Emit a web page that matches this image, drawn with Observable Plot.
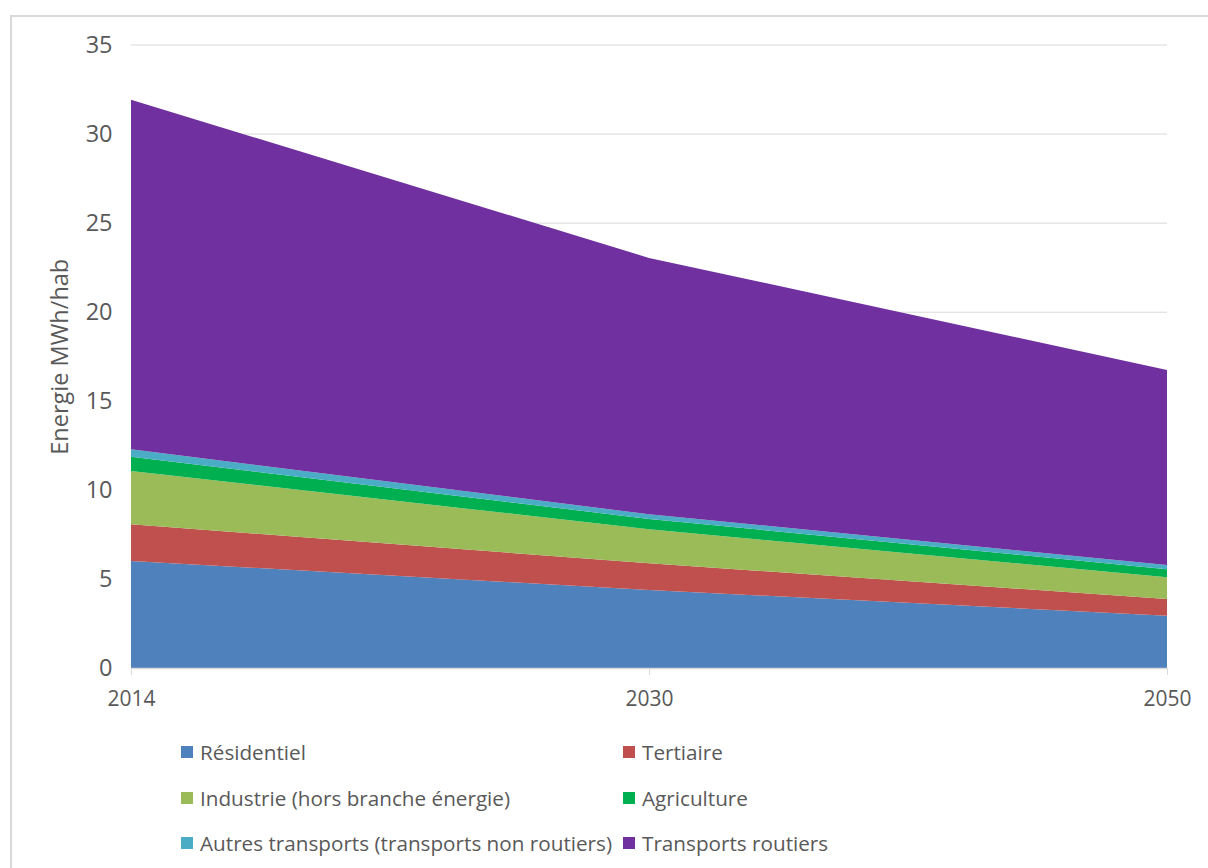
<!DOCTYPE html>
<html><head><meta charset="utf-8">
<script src="https://cdn.jsdelivr.net/npm/d3@7"></script>
<script src="https://cdn.jsdelivr.net/npm/@observablehq/plot@0.6"></script>
<style>
html,body{margin:0;padding:0;background:#fff;}
#wrap{position:relative;width:1208px;height:868px;overflow:hidden;font-family:"Open Sans",Lato,sans-serif;color:#595959;}
#frame{position:absolute;left:10px;top:15px;width:1210px;height:870px;border:2px solid #d9d9d9;box-sizing:border-box;}
#chart{position:absolute;left:0;top:0;}
.leg{position:absolute;font-size:20.7px;line-height:24px;white-space:nowrap;display:flex;align-items:center;}
.sw{display:inline-block;width:12px;height:12px;margin-right:7px;}
</style></head>
<body><div id="wrap"><div id="frame"></div><div id="chart"></div></div>
<script>
const years = ["2014", "2030", "2050"];
const series = ["Résidentiel", "Tertiaire", "Industrie (hors branche énergie)", "Agriculture", "Autres transports (transports non routiers)", "Transports routiers"];
const colors = ["#4F81BD", "#C0504D", "#9BBB59", "#00B050", "#4BACC6", "#7030A0"];
const residentiel = [6.01, 4.38, 2.93];
const tertiaire = [2.06, 1.50, 0.94];
const industrie = [2.99, 1.91, 1.22];
const agriculture = [0.80, 0.58, 0.45];
const autresTransports = [0.42, 0.26, 0.24];
const transportsRoutiers = [19.62, 14.39, 10.95];
const yTicks = [0, 5, 10, 15, 20, 25, 30, 35];

const valuesBySeries = [residentiel, tertiaire, industrie, agriculture, autresTransports, transportsRoutiers];
const data = [];
series.forEach((s, i) => years.forEach((y, j) => data.push({year: y, series: s, value: valuesBySeries[i][j]})));

const chart = Plot.plot({
  width: 1208,
  height: 720,
  marginLeft: 131,
  marginRight: 41,
  marginTop: 44.5,
  marginBottom: 52,
  style: {fontFamily: "'Open Sans', Lato, sans-serif", fontSize: "21px", color: "#595959", background: "transparent"},
  x: {type: "point", domain: years, padding: 0},
  y: {domain: [0, 35]},
  color: {domain: series, range: colors},
  marks: [
    Plot.ruleY(yTicks.filter(d => d > 0), {stroke: "#d9d9d9", strokeWidth: 1}),
    Plot.areaY(data, {x: "year", y: "value", fill: "series", z: "series", order: series}),
    Plot.ruleY([0], {stroke: "#d9d9d9", strokeWidth: 1.5}),
    Plot.axisX({tickSize: 7, tickPadding: 16, stroke: "#d9d9d9", label: null, fill: "#595959"}),
    Plot.axisY({ticks: yTicks, tickSize: 0, tickPadding: 19, label: "Energie MWh/hab", labelAnchor: "center", labelArrow: "none", labelOffset: 80, fill: "#595959", fontSize: 23.5})
  ]
});
document.getElementById("chart").appendChild(chart);

const legendPos = [[181, 752], [623, 752], [181, 798], [623, 798], [181, 843], [623, 843]];
const wrap = document.getElementById("wrap");
series.forEach((s, i) => {
  const d = document.createElement("div");
  d.className = "leg";
  d.style.left = legendPos[i][0] + "px";
  d.style.top = (legendPos[i][1] - 12) + "px";
  d.innerHTML = `<span class="sw" style="background:${colors[i]}"></span><span>${s}</span>`;
  wrap.appendChild(d);
});
</script></body></html>
